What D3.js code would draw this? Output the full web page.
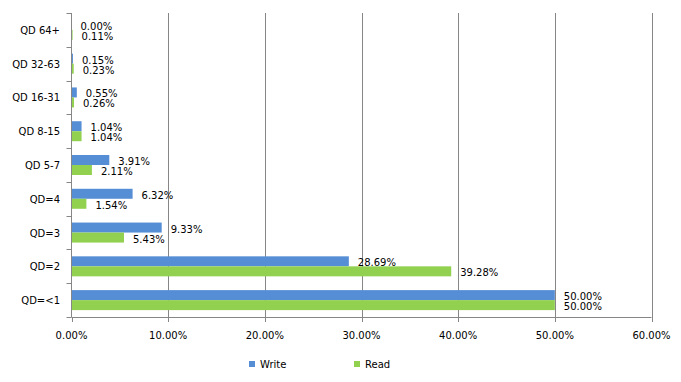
<!DOCTYPE html>
<html><head><meta charset="utf-8">
<script src="https://cdn.jsdelivr.net/npm/d3@7"></script>
<style>body{margin:0;background:#fff}svg{display:block}text{font-family:"DejaVu Sans",Verdana,sans-serif;font-size:10px;fill:#000}</style>
</head><body><svg id="c" width="681" height="382"></svg>
<script>
const categories = ["QD 64+","QD 32-63","QD 16-31","QD 8-15","QD 5-7","QD=4","QD=3","QD=2","QD=<1"];
const writeValues = [0.00,0.15,0.55,1.04,3.91,6.32,9.33,28.69,50.00];
const readValues = [0.11,0.23,0.26,1.04,2.11,1.54,5.43,39.28,50.00];
const seriesNames = ["Write","Read"];
const seriesColors = ["#558ED5","#92D050"];
const xTicks = [0,10,20,30,40,50,60];

const svg = d3.select("#c");
const m = {l:71.5, r:651.5, t:13, b:317};
const x = d3.scaleLinear().domain([0,60]).range([m.l, m.r]);
const y = d3.scaleBand().domain(categories).range([m.t, m.b]);
const sub = d3.scaleBand().domain(seriesNames).range([0,20]);
const series = [writeValues, readValues];

// gridlines
svg.append("g").selectAll("line").data(xTicks.slice(1)).join("line")
  .attr("x1",d=>Math.round(x(d))+0.5).attr("x2",d=>Math.round(x(d))+0.5)
  .attr("y1",m.t).attr("y2",m.b).attr("stroke","#868686");

// bars
series.forEach((vals,si)=>{
  const g = svg.append("g");
  g.selectAll("rect").data(vals).join("rect")
    .attr("x",x(0)).attr("width",d=>x(d)-x(0))
    .attr("y",(d,i)=>y(categories[i])+y.bandwidth()/2-10+sub(seriesNames[si]))
    .attr("height",sub.bandwidth()).attr("fill",seriesColors[si]);
  g.selectAll("text").data(vals).join("text")
    .attr("x",d=>x(d)+9)
    .attr("y",(d,i)=>y(categories[i])+y.bandwidth()/2-10+sub(seriesNames[si])+sub.bandwidth()/2+2)
    .attr("dominant-baseline","middle")
    .text(d=>d.toFixed(2)+"%");
});

// y axis
const ya = svg.append("g");
ya.append("line").attr("x1",m.l).attr("x2",m.l).attr("y1",m.t).attr("y2",m.b).attr("stroke","#868686");
const bounds = categories.map(c=>y(c)).concat([m.b]);
ya.selectAll("line.t").data(bounds).join("line").attr("class","t")
  .attr("x1",m.l-5).attr("x2",m.l).attr("y1",d=>Math.round(d)+0.5).attr("y2",d=>Math.round(d)+0.5).attr("stroke","#868686");
ya.selectAll("text").data(categories).join("text")
  .attr("x",60).attr("y",d=>y(d)+y.bandwidth()/2+1).attr("text-anchor","end")
  .attr("dominant-baseline","middle").text(d=>d);

// x axis
const xa = svg.append("g");
xa.append("line").attr("x1",m.l).attr("x2",m.r).attr("y1",m.b+0.5).attr("y2",m.b+0.5).attr("stroke","#868686");
xa.selectAll("line.t").data(xTicks).join("line").attr("class","t")
  .attr("x1",d=>Math.round(x(d))+0.5).attr("x2",d=>Math.round(x(d))+0.5)
  .attr("y1",m.b).attr("y2",m.b+5).attr("stroke","#868686");
xa.selectAll("text").data(xTicks).join("text")
  .attr("x",d=>x(d)).attr("y",336).attr("text-anchor","middle")
  .attr("dominant-baseline","middle").text(d=>d.toFixed(2)+"%");

// legend
const lx = [249,354];
seriesNames.forEach((n,i)=>{
  svg.append("rect").attr("x",lx[i]).attr("y",361).attr("width",6).attr("height",6).attr("fill",seriesColors[i]);
  svg.append("text").attr("x",lx[i]+11).attr("y",364.5).attr("dominant-baseline","middle").text(n);
});
</script></body></html>
